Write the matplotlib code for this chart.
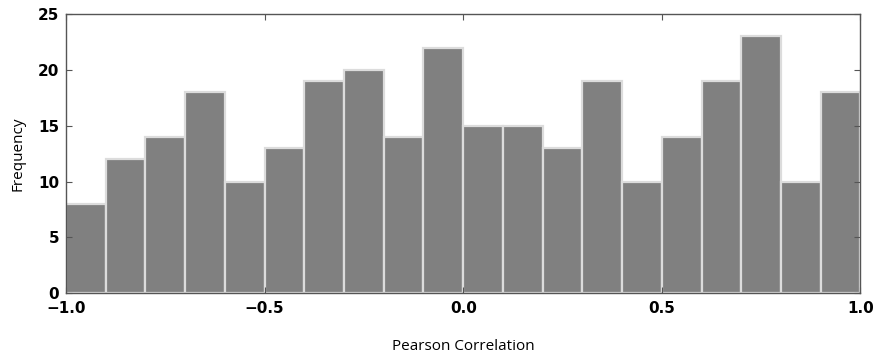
import numpy as np
import matplotlib
matplotlib.use("Agg")
import matplotlib.pyplot as plt

# histogram counts, 20 bins from -1 to 1
bin_edges = np.linspace(-1.0, 1.0, 21)
counts = [8, 12, 14, 18, 10, 13, 19, 20, 14, 22,
          15, 15, 13, 19, 10, 14, 19, 23, 10, 18]
x_ticks = [-1.0, -0.5, 0.0, 0.5, 1.0]
y_ticks = [0, 5, 10, 15, 20, 25]

fig = plt.figure(figsize=(8.73, 3.54), dpi=100)
ax = fig.add_axes([0.0756, 0.172, 0.910, 0.788])

centers = (bin_edges[:-1] + bin_edges[1:]) / 2
ax.hist(centers, bins=bin_edges, weights=counts,
        color='#808080', edgecolor='#dcdcdc', linewidth=1.6)

ax.set_xlim(-1.0, 1.0)
ax.set_ylim(0, 25)
ax.set_xticks(x_ticks)
ax.set_yticks(y_ticks)
ax.set_xticklabels(['\u22121.0', '\u22120.5', '0.0', '0.5', '1.0'])
ax.tick_params(direction='in', top=True, right=True, length=4,
               width=0.8, color='#555555', labelsize=11)
ax.tick_params(axis='x', pad=6)
ax.tick_params(axis='y', pad=5)
for lbl in ax.get_xticklabels() + ax.get_yticklabels():
    lbl.set_fontweight('bold')
for sp in ax.spines.values():
    sp.set_color('#555555')
    sp.set_linewidth(1.0)

ax.set_xlabel('Pearson Correlation', fontsize=11, family='Open Sans', labelpad=16)
ax.set_ylabel('Frequency', fontsize=11, family='Open Sans', labelpad=9)

fig.savefig('out.png', dpi=100)
